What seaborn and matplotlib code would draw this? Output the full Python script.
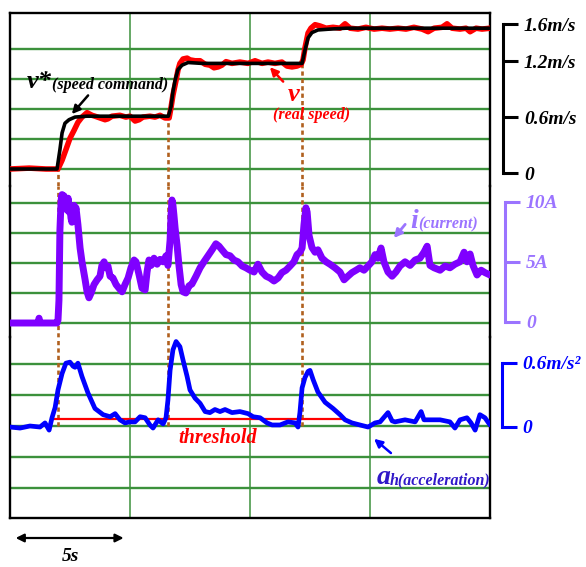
import matplotlib
matplotlib.use("Agg")
import matplotlib.pyplot as plt
import seaborn as sns

# ---------------- data (time in s, 4 divisions x 5 s) ----------------
t_cmd = [0, 1.96, 2.08, 2.17, 2.29, 2.46, 2.71, 3.2, 6.6, 6.71, 6.79, 6.88, 7.0, 7.17, 7.42, 8.0,
         12.17, 12.29, 12.42, 12.58, 12.83, 13.33, 14.0, 20.0]
v_cmd = [0, 0, 0.22, 0.41, 0.52, 0.56, 0.59, 0.6, 0.6, 0.71, 0.88, 1.01, 1.13, 1.18, 1.21, 1.2,
         1.2, 1.35, 1.49, 1.55, 1.58, 1.59, 1.6, 1.6]

t_real = [0, 0.8, 1.5, 2.0, 2.17, 2.33, 2.5, 2.67, 2.83, 3.0, 3.21, 3.42, 3.54, 3.75, 3.96, 4.08,
          4.25, 4.58, 4.83, 5.0, 5.21, 5.38, 5.54, 5.83, 6.04, 6.25, 6.46, 6.63, 6.71, 6.79, 6.92,
          7.0, 7.08, 7.21, 7.38, 7.5, 7.71, 7.92, 8.13, 8.33, 8.5, 8.67, 8.83, 9.0, 9.25, 9.58,
          9.92, 10.21, 10.5, 10.75, 11.04, 11.33, 11.54, 11.75, 11.96, 12.13, 12.21, 12.29, 12.42,
          12.54, 12.71, 12.92, 13.17, 13.46, 13.75, 13.96, 14.17, 14.5, 14.83, 15.17, 15.5, 15.83,
          16.17, 16.5, 16.83, 17.17, 17.42, 17.67, 18.0, 18.21, 18.42, 18.75, 19.0, 19.17, 19.42,
          19.67, 20.0]
v_real = [0, 0.01, 0, 0, 0.10, 0.22, 0.35, 0.44, 0.53, 0.59, 0.64, 0.61, 0.6, 0.58, 0.56, 0.57,
          0.6, 0.61, 0.59, 0.6, 0.545, 0.56, 0.59, 0.6, 0.59, 0.61, 0.58, 0.58, 0.70, 0.84, 1.01,
          1.125, 1.2, 1.25, 1.26, 1.24, 1.23, 1.23, 1.19, 1.18, 1.15, 1.16, 1.18, 1.22, 1.2, 1.215,
          1.2, 1.23, 1.2, 1.215, 1.2, 1.215, 1.17, 1.16, 1.17, 1.19, 1.24, 1.375, 1.545,
          1.6, 1.64, 1.625, 1.6, 1.61, 1.6, 1.65, 1.6, 1.59, 1.61, 1.59, 1.6, 1.59,
          1.6, 1.59, 1.61, 1.59, 1.56, 1.6, 1.61, 1.65, 1.6, 1.59, 1.6, 1.56, 1.6,
          1.59, 1.6]

t_cur = [0, 1.17, 1.21, 1.25, 1.96, 2.0, 2.04, 2.08, 2.13, 2.17,
         2.21, 2.25, 2.29, 2.33, 2.38, 2.42, 2.46, 2.5, 2.54, 2.58,
         2.63, 2.67, 2.71, 2.75, 2.83, 2.92, 3.0, 3.13, 3.21, 3.29,
         3.38, 3.5, 3.63, 3.75, 3.83, 3.92, 4.0, 4.08, 4.17, 4.29,
         4.42, 4.54, 4.67, 4.79, 4.92, 5.04, 5.17, 5.25, 5.38, 5.5,
         5.63, 5.71, 5.79, 5.88, 6.0, 6.13, 6.25, 6.38, 6.5, 6.58,
         6.67, 6.71, 6.75, 6.79, 6.83, 6.88, 6.96, 7.04, 7.13, 7.21,
         7.33, 7.46, 7.58, 7.75, 7.92, 8.08, 8.25, 8.42, 8.58, 8.71,
         8.83, 9.0, 9.17, 9.33, 9.5, 9.67, 9.83, 10.0, 10.17, 10.33,
         10.5, 10.67, 10.83, 11.0, 11.17, 11.33, 11.5, 11.67, 11.83, 11.96,
         12.08, 12.17, 12.25, 12.33, 12.38, 12.46, 12.58, 12.71, 12.83, 13.0,
         13.17, 13.33, 13.54, 13.75, 13.92, 14.08, 14.25, 14.42, 14.58, 14.75,
         14.92, 15.08, 15.21, 15.33, 15.46, 15.58, 15.75, 15.92, 16.08, 16.25,
         16.46, 16.67, 16.88, 17.08, 17.25, 17.38, 17.5, 17.67, 17.92, 18.13,
         18.33, 18.54, 18.75, 18.92, 19.04, 19.17, 19.29, 19.46, 19.63, 19.79,
         20.0]
i_cur = [0, 0, 0.4, 0, 0, 0.25, 1.9, 7.75, 10.25, 10.7,
         9.8, 10.6, 9.7, 10.25, 9.4, 10.4, 9.25, 9.8, 8.75, 8.4,
         9.25, 9.8, 9.2, 9.6, 8.2, 6.25, 5.1, 3.6, 2.6, 2.1,
         2.5, 3.2, 3.6, 3.9, 4.8, 5.1, 4.6, 4.75, 3.9, 3.75,
         3.2, 2.9, 2.6, 3.2, 3.75, 4.6, 5.25, 5.1, 4.0, 2.9,
         2.75, 4.25, 5.25, 4.8, 5.4, 4.9, 5.3, 5.1, 5.6, 4.8,
         6.9, 9.0, 10.25, 9.8, 9.0, 7.9, 6.5, 4.8, 3.2, 2.6,
         2.5, 3.1, 3.25, 3.9, 4.6, 5.1, 5.6, 6.1, 6.6, 6.4,
         6.1, 5.7, 5.6, 5.25, 5.1, 4.75, 4.6, 4.4, 4.25, 4.9,
         4.25, 3.9, 3.75, 3.5, 3.75, 4.2, 4.4, 4.75, 5.1, 5.7,
         5.9, 6.25, 8.2, 9.6, 9.25, 7.3, 6.3, 5.9, 6.1, 5.4,
         5.1, 4.9, 4.6, 4.25, 3.6, 3.9, 4.2, 4.4, 4.6, 4.4,
         4.75, 5.1, 5.7, 5.4, 6.25, 5.1, 4.25, 3.9, 4.25, 4.75,
         5.1, 4.8, 5.25, 5.4, 5.9, 6.4, 4.8, 4.6, 4.4, 4.75,
         4.6, 4.9, 5.1, 5.9, 5.1, 5.75, 4.8, 4.0, 4.4, 4.2,
         4.0]

t_acc = [0, 0.42, 0.83, 1.25, 1.46, 1.63, 1.75, 1.88, 2.0, 2.17,
         2.33, 2.5, 2.63, 2.71, 2.83, 3.0, 3.25, 3.54, 3.88, 4.17,
         4.38, 4.58, 4.79, 5.0, 5.21, 5.42, 5.63, 5.83, 5.96, 6.17,
         6.38, 6.5, 6.58, 6.67, 6.79, 6.92, 7.08, 7.21, 7.38, 7.5,
         7.71, 7.92, 8.13, 8.33, 8.54, 8.75, 8.96, 9.25, 9.58, 9.92,
         10.13, 10.42, 10.71, 10.92, 11.25, 11.58, 11.88, 12.0, 12.08, 12.17,
         12.29, 12.42, 12.5, 12.63, 12.83, 13.13, 13.46, 13.75, 13.96, 14.25,
         14.58, 14.92, 15.21, 15.42, 15.75, 15.92, 16.04, 16.46, 16.88, 17.13,
         17.25, 17.42, 17.92, 18.33, 18.54, 18.75, 19.04, 19.21, 19.38, 19.58,
         19.79, 20.0]
a_acc = [-0.01, -0.02, 0, -0.01, 0.03, -0.04, 0.08, 0.18, 0.35, 0.51,
         0.61, 0.62, 0.58, 0.57, 0.61, 0.48, 0.32, 0.17, 0.11, 0.09,
         0.12, 0.06, 0.03, 0.04, 0.04, 0.09, 0.08, 0.01, -0.02, 0.06,
         0.02, 0.08, 0.25, 0.54, 0.74, 0.82, 0.77, 0.64, 0.48, 0.35,
         0.27, 0.22, 0.14, 0.13, 0.16, 0.14, 0.16, 0.13, 0.14, 0.12,
         0.09, 0.08, 0.03, 0.01, 0.01, 0.04, 0.03, -0.01, 0.13, 0.37,
         0.47, 0.53, 0.54, 0.45, 0.33, 0.23, 0.17, 0.11, 0.06, 0.03,
         0.01, -0.01, 0.03, 0.04, 0.13, 0.05, 0.04, 0.06, 0.04, 0.14,
         0.06, 0.06, 0.06, 0.04, -0.02, 0.06, 0.08, 0.03, -0.04, 0.11,
         0.08, 0.01]

step_times = [2.0, 6.58, 12.17]
step_speeds = [0.0, 0.6, 1.2]
threshold_value = 0.07
threshold_span = [1.75, 14.0]

speed_ticks = [0, 0.6, 1.2, 1.6]
speed_tick_labels = ["0", "0.6m/s", "1.2m/s", "1.6m/s"]
current_ticks = [0, 5, 10]
current_tick_labels = ["0", "5A", "10A"]
accel_ticks = [0, 0.6]
accel_tick_labels = ["0", "0.6m/s\u00b2"]

speed_grid = [0, 0.341, 0.682, 1.023, 1.364]
current_grid = [0, 2.5, 5, 7.5, 10]
accel_grid = [-0.6, -0.3, 0, 0.3, 0.6]
time_grid = [5, 10, 15]

# ---------------- styling ----------------
sns.set_style("white")
plt.rcParams["font.family"] = ["Liberation Serif", "DejaVu Serif"]
BI = dict(fontstyle="italic", fontweight="bold")
GREEN = "#3c913c"
BROWN = "#b0601e"
PURPLE = "#7f00ff"
LPURPLE = "#9b74ff"
BLUE = "#0000ff"
ABLUE = "#3018c8"

W, H = 586, 567
fig = plt.figure(figsize=(W / 100, H / 100), dpi=100)


def rect(top, bottom):
    return [10 / W, 1 - bottom / H, 480 / W, (bottom - top) / H]


ax1 = fig.add_axes(rect(13, 186))
ax2 = fig.add_axes(rect(186, 337))
ax3 = fig.add_axes(rect(337, 518))

limits = [(-0.1932, 1.7727), (-1.1667, 11.417), (-0.8932, 0.8641)]
grids = [speed_grid, current_grid, accel_grid]
for ax, lim, g in zip([ax1, ax2, ax3], limits, grids):
    ax.set_xlim(0, 20)
    ax.set_ylim(*lim)
    ax.set_xticks(time_grid)
    ax.set_yticks(g)
    ax.set_axisbelow(True)
    ax.xaxis.grid(True, color=GREEN, lw=1.1)
    ax.yaxis.grid(True, color=GREEN, lw=1.7)
    ax.tick_params(length=0, labelbottom=False, labelleft=False)
    ax.set_facecolor("none")
    for s in ax.spines.values():
        s.set_color("black")
        s.set_linewidth(1.7)
ax1.spines["bottom"].set_visible(False)
ax2.spines["top"].set_visible(False)
ax2.spines["bottom"].set_visible(False)
ax3.spines["top"].set_visible(False)

# dashed event lines
for ts, vs in zip(step_times, step_speeds):
    ax1.vlines(ts, limits[0][0], vs, color=BROWN, lw=1.9, linestyles=(0, (1.6, 1.2)), zorder=2)
    ax2.vlines(ts, limits[1][0], limits[1][1], color=BROWN, lw=1.9, linestyles=(0, (1.6, 1.2)), zorder=2)
    ax3.vlines(ts, 0, limits[2][1], color=BROWN, lw=1.9, linestyles=(0, (1.6, 1.2)), zorder=2)

# traces
sns.lineplot(x=t_real, y=v_real, ax=ax1, color="#ff0000", lw=4.0, sort=False, estimator=None, zorder=3)
sns.lineplot(x=t_cmd, y=v_cmd, ax=ax1, color="black", lw=2.6, sort=False, estimator=None, zorder=4)
sns.lineplot(x=t_cur, y=i_cur, ax=ax2, color=PURPLE, lw=5.0, sort=False, estimator=None, zorder=3)
sns.lineplot(x=t_acc, y=a_acc, ax=ax3, color=BLUE, lw=3.4, sort=False, estimator=None, zorder=4)
ax3.hlines(threshold_value, *threshold_span, color="#ff0000", lw=1.6, zorder=3)

# right-hand scale brackets
def bracket(ax, lim, ticks, labels, color, out_pt):
    tw = ax.twinx()
    tw.set_ylim(*lim)
    tw.set_yticks(ticks, labels)
    tw.grid(False)
    for s in ["top", "bottom", "left"]:
        tw.spines[s].set_visible(False)
    sp = tw.spines["right"]
    sp.set_position(("outward", out_pt))
    sp.set_bounds(ticks[0], ticks[-1])
    sp.set_color(color)
    sp.set_linewidth(2.2)
    tw.tick_params(axis="y", direction="out", length=11, width=2.2, color=color,
                   labelcolor=color, pad=4, labelsize=14)
    for lab in tw.get_yticklabels():
        lab.set_fontstyle("italic")
        lab.set_fontweight("bold")
    return tw

bracket(ax1, (-0.1396, 1.7186), speed_ticks, speed_tick_labels, "black", 9.4)
bracket(ax2, (-1.25, 11.333), current_ticks, current_tick_labels, LPURPLE, 10.8)
bracket(ax3, (-0.8529, 0.8435), accel_ticks, accel_tick_labels, BLUE, 8.6)

# annotations
ax1.text(0.71, 0.92, "v*", color="black", fontsize=19, va="baseline", ha="left", **BI)
ax1.text(1.75, 0.91, "(speed command)", color="black", fontsize=11.5, va="baseline", ha="left", **BI)
ax1.annotate("", xy=(2.5, 0.60), xytext=(3.33, 0.86),
             arrowprops=dict(arrowstyle="-|>", color="black", lw=1.8, mutation_scale=12))
ax1.text(11.8, 0.77, "v", color="#ff0000", fontsize=19, va="baseline", ha="center", **BI)
ax1.text(12.55, 0.57, "(real speed)", color="#ff0000", fontsize=11.5, va="baseline", ha="center", **BI)
ax1.annotate("", xy=(10.75, 1.18), xytext=(11.46, 0.97),
             arrowprops=dict(arrowstyle="-|>", color="#ff0000", lw=1.8, mutation_scale=12))

ax2.text(16.67, 7.9, "i", color=LPURPLE, fontsize=20, va="baseline", ha="left", **BI)
ax2.text(17.0, 7.9, "(current)", color=LPURPLE, fontsize=11.5, va="baseline", ha="left", **BI)
ax2.annotate("", xy=(15.92, 6.9), xytext=(16.54, 8.4),
             arrowprops=dict(arrowstyle="-|>", color=LPURPLE, lw=2.0, mutation_scale=12))

ax3.text(15.29, -0.563, "a", color=ABLUE, fontsize=20, va="baseline", ha="left", **BI)
ax3.text(15.83, -0.563, "h(acceleration)", color=ABLUE, fontsize=11.5, va="baseline", ha="left", **BI)
ax3.annotate("", xy=(15.08, -0.107), xytext=(15.96, -0.28),
             arrowprops=dict(arrowstyle="-|>", color=BLUE, lw=1.8, mutation_scale=12))
ax3.text(8.67, -0.117, "threshold", color="#ff0000", fontsize=14.5, va="center", ha="center", **BI)

# time-scale arrow below the frame
ax3.annotate("", xy=(4.85, -0.1105), xytext=(0.12, -0.1105),
             xycoords=("data", "axes fraction"), textcoords=("data", "axes fraction"),
             arrowprops=dict(arrowstyle="<|-|>", color="black", lw=1.6, mutation_scale=12),
             annotation_clip=False)
ax3.annotate("5s", xy=(2.5, -0.215), xycoords=("data", "axes fraction"),
             ha="center", va="center", fontsize=14, color="black", annotation_clip=False, **BI)

fig.savefig("out.png", dpi=100)
